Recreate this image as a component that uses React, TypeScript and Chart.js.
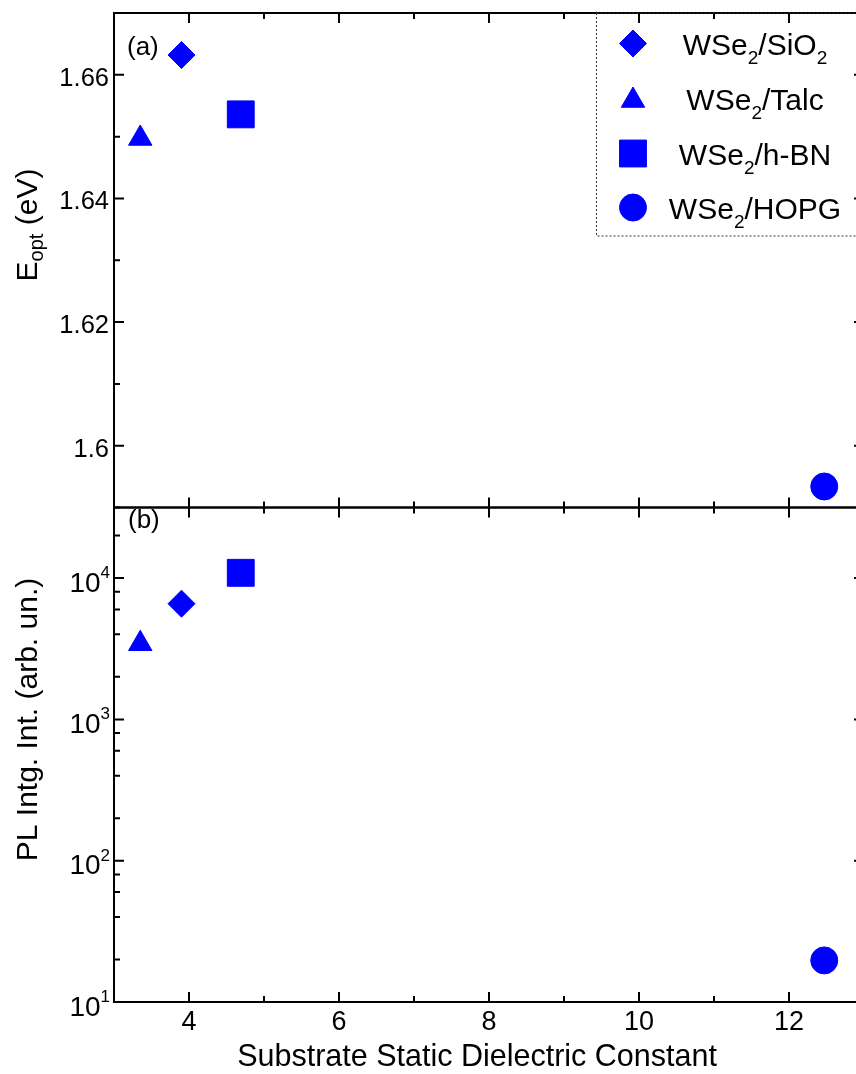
import React, { useEffect, useRef } from 'react';
import { Chart, registerables } from 'chart.js';
import { drawPoint } from 'chart.js/helpers';

Chart.register(...registerables);

// ---------------- data ----------------
const SUBSTRATES = ['SiO', 'Talc', 'h-BN', 'HOPG'];
const SUBSTRATE_SUB = ['2', '', '', ''];
const DIELECTRIC = [3.9, 3.35, 4.69, 12.47];
const E_OPT = [1.6632, 1.6497, 1.6536, 1.5934];
const PL_INT = [6590, 3430, 10900, 19.7];
const POINT_STYLES = ['rectRot', 'triangle', 'rect', 'circle'];
const POINT_RADII = [13.5, 13.5, 19, 13.5];

const X_MIN = 3;
const X_MAX = 13;
const X_MAJOR = [4, 6, 8, 10, 12];
const X_MINOR = [3, 5, 7, 9, 11, 13];
const E_MIN = 1.59;
const E_MAX = 1.67;
const E_MAJOR = [1.6, 1.62, 1.64, 1.66];
const E_MAJOR_LABELS = ['1.6', '1.62', '1.64', '1.66'];
const E_MINOR = [1.59, 1.61, 1.63, 1.65, 1.67];
const PL_MIN = 10;
const PL_MAX = 31600;
const PL_MAJOR = [10, 100, 1000, 10000];
const PL_MAJOR_EXP = ['1', '2', '3', '4'];
const PL_MINOR = [20, 40, 60, 80, 200, 400, 600, 800, 2000, 4000, 6000, 8000, 20000];

const BLUE = '#0000FF';
const FONT = '"Liberation Sans", Arial, Helvetica, sans-serif';

type Seg = { t: string; s?: 'sub' | 'sup' };

function drawRich(
  ctx: CanvasRenderingContext2D,
  segs: Seg[],
  x: number,
  y: number,
  align: 'left' | 'center' | 'right',
  size: number,
  small: number,
  subDy: number,
  supDy: number
) {
  const widths = segs.map((sg) => {
    ctx.font = `${sg.s ? small : size}px ${FONT}`;
    return ctx.measureText(sg.t).width;
  });
  const total = widths.reduce((a, b) => a + b, 0);
  let cx = align === 'left' ? x : align === 'center' ? x - total / 2 : x - total;
  ctx.textAlign = 'left';
  ctx.textBaseline = 'alphabetic';
  segs.forEach((sg, i) => {
    ctx.font = `${sg.s ? small : size}px ${FONT}`;
    const dy = sg.s === 'sub' ? subDy : sg.s === 'sup' ? -supDy : 0;
    ctx.fillText(sg.t, cx, y + dy);
    cx += widths[i];
  });
}

const framePlugin = {
  id: 'frame',
  afterDraw(chart: any) {
    const ctx: CanvasRenderingContext2D = chart.ctx;
    const ca = chart.chartArea;
    const xs = chart.scales.x;
    const yt = chart.scales.y;
    const yb = chart.scales.y2;
    ctx.save();
    ctx.strokeStyle = '#000';
    ctx.fillStyle = '#000';
    ctx.lineWidth = 2;
    ctx.lineCap = 'butt';

    const panels = [yt, yb];
    panels.forEach((ys: any) => {
      ctx.strokeRect(ca.left, ys.top, ca.right - ca.left, ys.bottom - ys.top);
      const xTick = (v: number, len: number) => {
        const px = xs.getPixelForValue(v);
        ctx.beginPath();
        ctx.moveTo(px, ys.bottom);
        ctx.lineTo(px, ys.bottom - len);
        ctx.moveTo(px, ys.top);
        ctx.lineTo(px, ys.top + len);
        ctx.stroke();
      };
      X_MAJOR.forEach((v) => xTick(v, 10));
      X_MINOR.forEach((v) => xTick(v, 6));
    });

    const yTick = (ys: any, v: number, len: number) => {
      const py = ys.getPixelForValue(v);
      ctx.beginPath();
      ctx.moveTo(ca.left, py);
      ctx.lineTo(ca.left + len, py);
      ctx.moveTo(ca.right, py);
      ctx.lineTo(ca.right - len, py);
      ctx.stroke();
    };
    E_MAJOR.forEach((v) => yTick(yt, v, 10));
    E_MINOR.forEach((v) => yTick(yt, v, 6));
    PL_MAJOR.forEach((v) => yTick(yb, v, 10));
    PL_MINOR.forEach((v) => yTick(yb, v, 6));

    // tick labels
    E_MAJOR.forEach((v, i) => {
      const py = yt.getPixelForValue(v);
      drawRich(ctx, [{ t: E_MAJOR_LABELS[i] }], ca.left - 5, py + 11, 'right', 25.5, 16, 0, 0);
    });
    PL_MAJOR.forEach((v, i) => {
      const py = yb.getPixelForValue(v);
      drawRich(ctx, [{ t: '10' }, { t: PL_MAJOR_EXP[i], s: 'sup' }], ca.left - 4, py + 13.5, 'right', 28, 17, 0, 13.5);
    });
    X_MAJOR.forEach((v) => {
      const px = xs.getPixelForValue(v);
      drawRich(ctx, [{ t: String(v) }], px, ca.bottom + 28, 'center', 27, 17, 0, 0);
    });

    // axis titles
    drawRich(ctx, [{ t: 'Substrate Static Dielectric Constant' }], 477, ca.bottom + 64, 'center', 30.5, 20, 0, 0);
    ctx.save();
    ctx.translate(37, 225);
    ctx.rotate(-Math.PI / 2);
    drawRich(ctx, [{ t: 'E' }, { t: 'opt', s: 'sub' }, { t: ' (eV)' }], 0, 0, 'center', 30, 20, 6, 0);
    ctx.restore();
    ctx.save();
    ctx.translate(37, 719.5);
    ctx.rotate(-Math.PI / 2);
    drawRich(ctx, [{ t: 'PL Intg. Int. (arb. un.)' }], 0, 0, 'center', 30, 20, 0, 0);
    ctx.restore();

    // panel labels
    drawRich(ctx, [{ t: '(a)' }], ca.left + 13, yt.top + 42, 'left', 26, 17, 0, 0);
    drawRich(ctx, [{ t: '(b)' }], ca.left + 14, yb.top + 20, 'left', 26, 17, 0, 0);

    // legend box
    ctx.save();
    ctx.strokeStyle = '#333';
    ctx.lineWidth = 1;
    ctx.setLineDash([2, 2]);
    ctx.strokeRect(596.5, ca.top, 320, 236 - ca.top);
    ctx.restore();

    const rows = [43.5, 98.5, 153.5, 207.5];
    SUBSTRATES.forEach((s, i) => {
      ctx.fillStyle = BLUE;
      ctx.strokeStyle = BLUE;
      ctx.lineWidth = 1;
      drawPoint(
        ctx,
        { pointStyle: POINT_STYLES[i], radius: POINT_RADII[i], rotation: 0, borderWidth: 1 } as any,
        633,
        rows[i] + (POINT_STYLES[i] === 'triangle' ? 2 : 0)
      );
      ctx.fillStyle = '#000';
      const segs: Seg[] = [{ t: 'WSe' }, { t: '2', s: 'sub' }, { t: '/' + s }];
      if (SUBSTRATE_SUB[i]) segs.push({ t: SUBSTRATE_SUB[i], s: 'sub' });
      drawRich(ctx, segs, 755, rows[i] + 11, 'center', 30, 19, 9, 0);
    });

    ctx.restore();
  },
};

export default function App() {
  const ref = useRef<HTMLCanvasElement>(null);
  useEffect(() => {
    const canvas = ref.current;
    if (!canvas) return;
    const mk = (axis: 'y' | 'y2') =>
      SUBSTRATES.map((s, i) => ({
        label: `WSe2/${s}${SUBSTRATE_SUB[i]} ${axis}`,
        yAxisID: axis,
        data: [{ x: DIELECTRIC[i], y: axis === 'y' ? E_OPT[i] : PL_INT[i] }],
        pointStyle: POINT_STYLES[i],
        pointRadius: POINT_RADII[i],
        pointHoverRadius: POINT_RADII[i],
        backgroundColor: BLUE,
        borderColor: BLUE,
        borderWidth: 1,
        showLine: false,
        clip: false,
      }));
    const hiddenAxis = {
      ticks: { display: false },
      grid: { display: false },
      border: { display: false },
      title: { display: false },
    };
    const chart = new Chart(canvas, {
      type: 'scatter',
      data: { datasets: [...mk('y'), ...mk('y2')] as any },
      options: {
        responsive: false,
        animation: false,
        devicePixelRatio: 1,
        events: [],
        layout: { autoPadding: false, padding: { left: 0, top: 13, right: 16, bottom: 0 } },
        plugins: { legend: { display: false }, tooltip: { enabled: false } },
        scales: {
          x: {
            type: 'linear',
            position: 'bottom',
            min: X_MIN,
            max: X_MAX,
            ...hiddenAxis,
            afterFit: (s: any) => {
              s.height = 72;
            },
          },
          y: {
            type: 'linear',
            position: 'left',
            stack: 'panels',
            stackWeight: 1,
            weight: 2,
            min: E_MIN,
            max: E_MAX,
            ...hiddenAxis,
            afterFit: (s: any) => {
              s.width = 114;
            },
          },
          y2: {
            type: 'logarithmic',
            position: 'left',
            stack: 'panels',
            stackWeight: 1,
            weight: 1,
            min: PL_MIN,
            max: PL_MAX,
            ...hiddenAxis,
            afterFit: (s: any) => {
              s.width = 114;
            },
          },
        } as any,
      },
      plugins: [framePlugin],
    });
    return () => chart.destroy();
  }, []);

  return (
    <div
      style={{
        position: 'fixed',
        left: 0,
        top: 0,
        width: 856,
        height: 1074,
        overflow: 'hidden',
        background: '#fff',
      }}
    >
      <canvas ref={ref} width={880} height={1074} style={{ display: 'block' }} />
    </div>
  );
}
